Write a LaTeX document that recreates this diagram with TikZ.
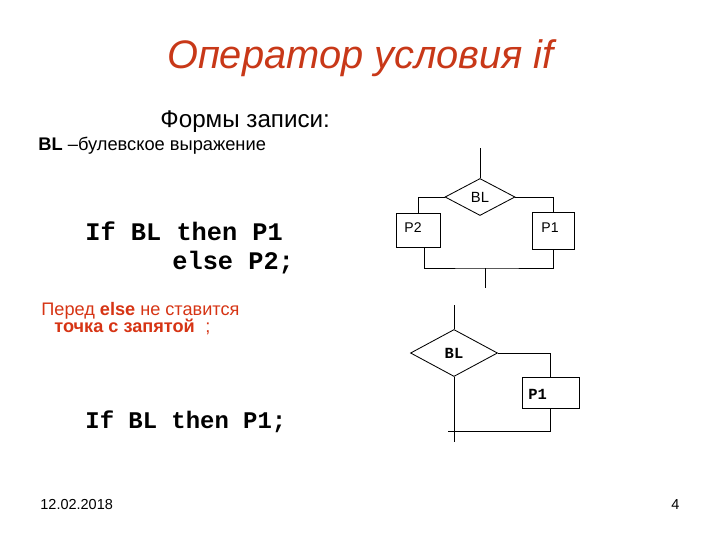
\documentclass[tikz,border=0pt]{standalone}
\usepackage{fontspec}
\setmainfont{Liberation Sans}
\setmonofont{Liberation Mono}
\usetikzlibrary{shapes.geometric, calc}
\definecolor{titlered}{RGB}{200,56,24}
\definecolor{notered}{RGB}{214,52,20}
\tikzset{
  blok/.style={draw, rectangle, inner sep=0pt},
  romb/.style={draw, diamond, inner sep=0pt},
  txt/.style={inner sep=0pt, anchor=base west},
  code/.style={txt, font=\fontsize{18}{20}\selectfont\ttfamily\bfseries},
}

\begin{document}
\begin{tikzpicture}[x=0.025cm, y=-0.025cm, line width=0.6pt]
\useasboundingbox (0,0) rectangle (720,540);

% headings
\node[inner sep=0pt, anchor=base, text=titlered, font=\fontsize{28.3}{34}\selectfont\itshape] (title) at (360.5,68) {Оператор условия if};
\node[txt, font=\fontsize{17.2}{20}\selectfont] (forms) at (160,127) {Формы записи:};
\node[txt, font=\fontsize{13}{15}\selectfont] (bldef) at (38,150) {\textbf{BL} –булевское выражение};

% full form
\node[code] (if1) at (85,240) {If BL then P1};
\node[code] (else1) at (172,269) {else P2;};
\node[txt, text=notered, font=\fontsize{12.9}{15}\selectfont] (note1) at (41,315) {Перед \textbf{else} не ставится};
\node[txt, text=notered, font=\fontsize{12.9}{15}\selectfont\bfseries] (note2) at (54,332) {точка с запятой};
\node[txt, text=notered, font=\fontsize{12.9}{15}\selectfont] (semi) at (205,332) {;};

% short form
\node[code, font=\fontsize{17}{20}\selectfont\ttfamily\bfseries] (if2) at (85,428) {If BL then P1;};

% upper flowchart
\coordinate (in1) at (480,148);
\node[romb, minimum width=1.75cm, minimum height=0.925cm, font=\fontsize{10.5}{12}\selectfont] (c1) at (480,197) {BL};
\node[blok, minimum width=1.1cm, minimum height=0.85cm] (p2) at (418,230) {};
\node[blok, minimum width=1.05cm, minimum height=0.925cm] (p1) at (553,230.5) {};
\node[txt, font=\fontsize{10}{12}\selectfont] (p2t) at (404,232) {P2};
\node[txt, font=\fontsize{10}{12}\selectfont] (p1t) at (541,232) {P1};
\coordinate (j1) at (485,268);
\coordinate (out1) at (485,288);
\draw (in1) -- (c1.north);
\draw (c1.west) -| (p2.north);
\draw (c1.east) -| (p1.north);
\draw ($(p2.south)+(6,0)$) |- (j1) -| (p1.south);
\draw (j1) -- (out1);

% lower flowchart
\coordinate (in2) at (454,305);
\node[romb, minimum width=2.175cm, minimum height=1.175cm, font=\fontsize{11}{13}\selectfont\ttfamily\bfseries] (c2) at (454,353) {BL};
\node[blok, minimum width=1.425cm, minimum height=0.775cm] (p3) at (550.5,392.5) {};
\node[txt, font=\fontsize{11}{13}\selectfont\ttfamily\bfseries] (p3t) at (528,399) {P1};
\coordinate (j2) at (550.5,431);
\coordinate (k2) at (448,431);
\coordinate (out2) at (454,442);
\draw (in2) -- (c2.north);
\draw (c2.east) -| (p3.north);
\draw (p3.south) -- (j2) -- (k2);
\draw (c2.south) -- (out2);

% footer
\node[txt, font=\fontsize{10.3}{12}\selectfont] (date) at (40,509) {12.02.2018};
\node[txt, font=\fontsize{10.3}{12}\selectfont] (page) at (671,509) {4};
\end{tikzpicture}
\end{document}
